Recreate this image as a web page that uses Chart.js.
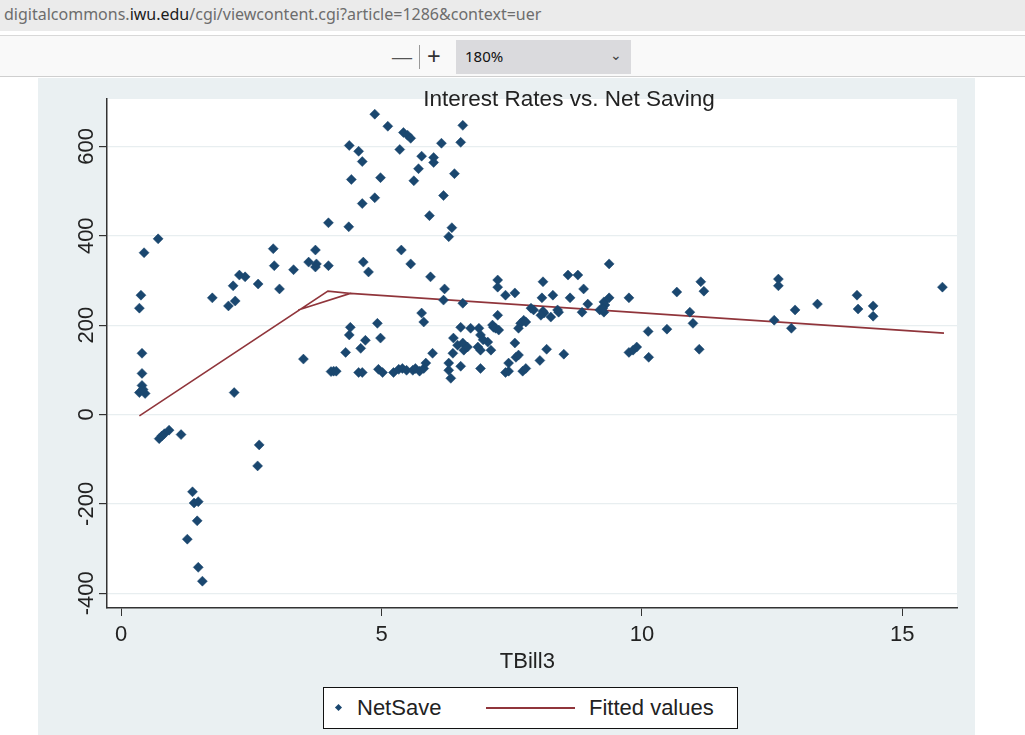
<!DOCTYPE html>
<html>
<head>
<meta charset="utf-8">
<script src="https://cdn.jsdelivr.net/npm/chart.js@4.4.1/dist/chart.umd.min.js"></script>
<style>
  html, body { margin: 0; padding: 0; background: #fff; width: 1025px; height: 735px; overflow: hidden; }
  body { position: relative; font-family: "Liberation Sans", Arial, sans-serif; }
  #urlbar { position: absolute; left: 0; top: 0; width: 1025px; height: 31px; background: #ebebeb; }
  #url { position: absolute; left: 4px; top: 3px; font-family: "Noto Sans", "Open Sans", sans-serif; font-size: 16px; color: #6d6d6d; white-space: nowrap; }
  #url b { font-weight: normal; color: #1b1b1b; }
  #sep { position: absolute; left: 0; top: 35px; width: 1025px; height: 1px; background: #d8d8d8; }
  #toolbar { position: absolute; left: 0; top: 36px; width: 1025px; height: 40px; background: #f9f9f9; border-bottom: 1px solid #cfcfcf; }
  .tb { position: absolute; font-family: "Noto Sans", sans-serif; color: #333; }
  #zoomsel { position: absolute; left: 456px; top: 4px; width: 175px; height: 34px; background: #dadadd; }
  #panel { position: absolute; left: 38px; top: 78px; width: 937px; height: 657px; background: #eaf0f2; }
  #c { position: absolute; left: 38px; top: 80px; }
  #legend { position: absolute; left: 323px; top: 687px; width: 413px; height: 40px; background: #fff; border: 1px solid #111; }
  .lg { position: absolute; top: 7px; font-size: 22px; color: #222; white-space: nowrap; }
</style>
</head>
<body>
<div id="urlbar"><div id="url">digitalcommons.<b>iwu.edu</b>/cgi/viewcontent.cgi?article=1286&amp;context=uer</div></div>
<div id="sep"></div>
<div id="toolbar">
  <div class="tb" style="left:391px;top:5px;font-size:22px;font-weight:300;color:#555;">&#8212;</div>
  <div style="position:absolute;left:419px;top:9px;width:1px;height:24px;background:#999;"></div>
  <div class="tb" style="left:427px;top:3px;font-size:24px;">+</div>
  <div id="zoomsel">
    <div class="tb" style="left:9px;top:6px;font-size:15px;color:#111;">180%</div>
    <div class="tb" style="left:154px;top:5px;font-size:14px;color:#444;">&#8964;</div>
  </div>
</div>
<div id="panel"></div>
<canvas id="c" width="937" height="655"></canvas>
<div id="legend">
  <div style="position:absolute;left:12px;top:17px;width:5px;height:5px;background:#1a476f;transform:rotate(45deg);"></div>
  <div class="lg" style="left:33px;">NetSave</div>
  <div style="position:absolute;left:162px;top:19px;width:89px;height:1.5px;background:#90353b;"></div>
  <div class="lg" style="left:265px;">Fitted values</div>
</div>
<script>
// NetSave vs TBill3
const netSaveX = [0.35, 0.38, 0.44, 0.71, 0.40, 0.40, 0.40, 0.35, 0.46, 0.42,
  0.73, 0.78, 0.83, 0.92, 1.15, 2.65, 2.62, 1.37, 1.40, 1.48,
  1.46, 1.27, 1.48, 1.56, 2.17, 1.75, 2.06, 2.19, 2.15, 2.27,
  2.38, 2.63, 2.92, 2.94, 3.04, 3.31, 3.60, 3.73, 3.75, 3.73,
  3.98, 3.98, 4.37, 3.50, 4.03, 4.08, 4.13, 4.87, 5.12, 5.42,
  5.50, 5.56, 6.56, 4.38, 4.56, 4.63, 5.35, 6.15, 6.52, 5.77,
  6.00, 6.00, 5.71, 5.62, 6.40, 4.42, 4.98, 4.63, 4.87, 6.19,
  5.92, 6.35, 6.29, 4.65, 4.75, 5.38, 5.56, 5.94, 6.21, 6.19,
  6.56, 5.77, 5.81, 4.40, 4.38, 4.31, 4.60, 4.69, 4.92, 4.98,
  4.56, 4.63, 4.94, 5.02, 5.23, 5.33, 5.40, 5.48, 5.60, 5.65,
  5.73, 5.81, 5.85, 5.98, 6.29, 6.29, 6.33, 6.37, 6.52, 6.52,
  6.71, 6.87, 6.90, 6.85, 6.90, 7.04, 7.10, 7.15, 7.23, 6.38,
  6.46, 6.58, 6.56, 6.65, 6.90, 7.23, 7.23, 7.38, 7.56, 8.10,
  8.29, 8.58, 8.77, 8.88, 8.62, 8.96, 8.08, 7.87, 7.92, 8.38,
  8.85, 9.19, 9.37, 9.27, 9.37, 9.29, 9.27, 9.25, 9.75, 10.67,
  8.10, 8.12, 8.06, 8.40, 8.25, 7.13, 7.19, 7.25, 7.73, 7.67,
  7.63, 7.77, 7.56, 7.58, 7.63, 7.44, 7.38, 7.44, 7.71, 7.77,
  8.17, 8.04, 8.50, 10.12, 10.48, 9.75, 9.83, 9.90, 10.13, 11.13,
  11.19, 12.62, 12.62, 15.77, 14.13, 14.15, 14.44, 14.44, 13.37, 12.94,
  12.87, 12.54, 10.92, 10.98, 11.10, 6.95];
const netSaveY = [238, 267, 362, 393, 137, 92, 65, 49, 47, 56,
  -54, -48, -43, -35, -45, -68, -115, -173, -198, -195,
  -238, -279, -342, -373, 49, 261, 243, 254, 288, 312,
  308, 292, 371, 333, 281, 324, 341, 368, 337, 330,
  333, 429, 420, 124, 96, 97, 97, 672, 645, 631,
  625, 618, 647, 602, 589, 566, 593, 607, 609, 578,
  575, 564, 550, 523, 539, 526, 530, 472, 485, 490,
  445, 418, 398, 341, 319, 368, 337, 308, 281, 256,
  249, 227, 207, 195, 178, 139, 148, 166, 204, 171,
  94, 94, 101, 94, 94, 101, 103, 99, 99, 103,
  97, 103, 115, 137, 115, 99, 81, 137, 108, 195,
  193, 193, 178, 151, 144, 162, 144, 195, 222, 171,
  155, 144, 160, 151, 103, 301, 285, 267, 272, 297,
  267, 312, 312, 281, 261, 247, 261, 238, 234, 234,
  229, 234, 337, 252, 261, 245, 229, 238, 261, 274,
  231, 227, 222, 229, 218, 200, 193, 189, 211, 204,
  193, 207, 160, 128, 133, 115, 94, 97, 97, 103,
  146, 121, 135, 186, 191, 139, 144, 151, 128, 297,
  276, 303, 288, 285, 267, 236, 243, 220, 247, 234,
  193, 211, 229, 204, 146, 167];

// fitted values, in the order they are drawn
const fitX = [0.35, 3.97, 4.40, 3.40, 4.40, 15.80];
const fitY = [-3, 276, 271, 234, 271, 182];

const xTicks = [0, 5, 10, 15];
const yTicks = [-400, -200, 0, 200, 400, 600];

const chartTitle = 'Interest Rates vs. Net Saving';
const xTitle = 'TBill3';

const FONT = '"Liberation Sans", Arial, sans-serif';

const extras = {
  id: 'extras',
  beforeDraw(chart) {
    const a = chart.chartArea, ctx = chart.ctx;
    ctx.save();
    ctx.fillStyle = '#ffffff';
    ctx.fillRect(a.left, a.top, a.right - a.left, a.bottom - a.top);
    ctx.restore();
  },
  afterDraw(chart) {
    const a = chart.chartArea, ctx = chart.ctx;
    const ys = chart.scales.y;
    ctx.save();
    ctx.fillStyle = '#222';
    ctx.font = '22px ' + FONT;
    ctx.textAlign = 'center';
    ctx.textBaseline = 'middle';
    ys.ticks.forEach(t => {
      const py = ys.getPixelForValue(t.value);
      ctx.save();
      ctx.translate(a.left - 20, py);
      ctx.rotate(-Math.PI / 2);
      ctx.fillText(String(t.value), 0, 0);
      ctx.restore();
    });
    ctx.textBaseline = 'alphabetic';
    ctx.font = '22.5px ' + FONT;
    ctx.fillText(chartTitle, 531, 26);
    ctx.font = '22px ' + FONT;
    ctx.fillText(xTitle, chart.scales.x.getPixelForValue(7.8), 588);
    ctx.restore();
  }
};

new Chart(document.getElementById('c').getContext('2d'), {
  type: 'scatter',
  data: {
    datasets: [{
      label: 'NetSave',
      data: netSaveX.map((x, i) => ({ x: x, y: netSaveY[i] })),
      pointStyle: 'rectRot',
      pointRadius: 5,
      backgroundColor: '#1a476f',
      borderColor: '#1a476f',
      borderWidth: 0.5
    }, {
      label: 'Fitted values',
      data: fitX.map((x, i) => ({ x: x, y: fitY[i] })),
      showLine: true,
      pointRadius: 0,
      borderColor: '#90353b',
      borderWidth: 1.6,
      fill: false
    }]
  },
  options: {
    responsive: false,
    animation: false,
    layout: { padding: { top: 19, right: 18, left: 0, bottom: 0 } },
    plugins: { legend: { display: false }, tooltip: { enabled: false } },
    scales: {
      x: {
        type: 'linear',
        min: -0.272,
        max: 16.05,
        afterBuildTicks(s) { s.ticks = xTicks.map(v => ({ value: v })); },
        afterFit(s) { s.height = 127; },
        grid: { color: 'rgba(0,0,0,0)', tickColor: '#333', tickLength: 8, drawOnChartArea: false },
        border: { color: '#333', width: 1.5 },
        ticks: { color: '#222', font: { family: FONT, size: 22 }, padding: 6, autoSkip: false, maxRotation: 0 }
      },
      y: {
        type: 'linear',
        min: -433,
        max: 706,
        afterBuildTicks(s) { s.ticks = yTicks.map(v => ({ value: v })); },
        afterFit(s) { s.width = 69; },
        grid: { color: '#e8eef0', lineWidth: 1.2, tickColor: '#333', tickLength: 8 },
        border: { color: '#333', width: 1.5 },
        ticks: { display: false }
      }
    }
  },
  plugins: [extras]
});
</script>
</body>
</html>
